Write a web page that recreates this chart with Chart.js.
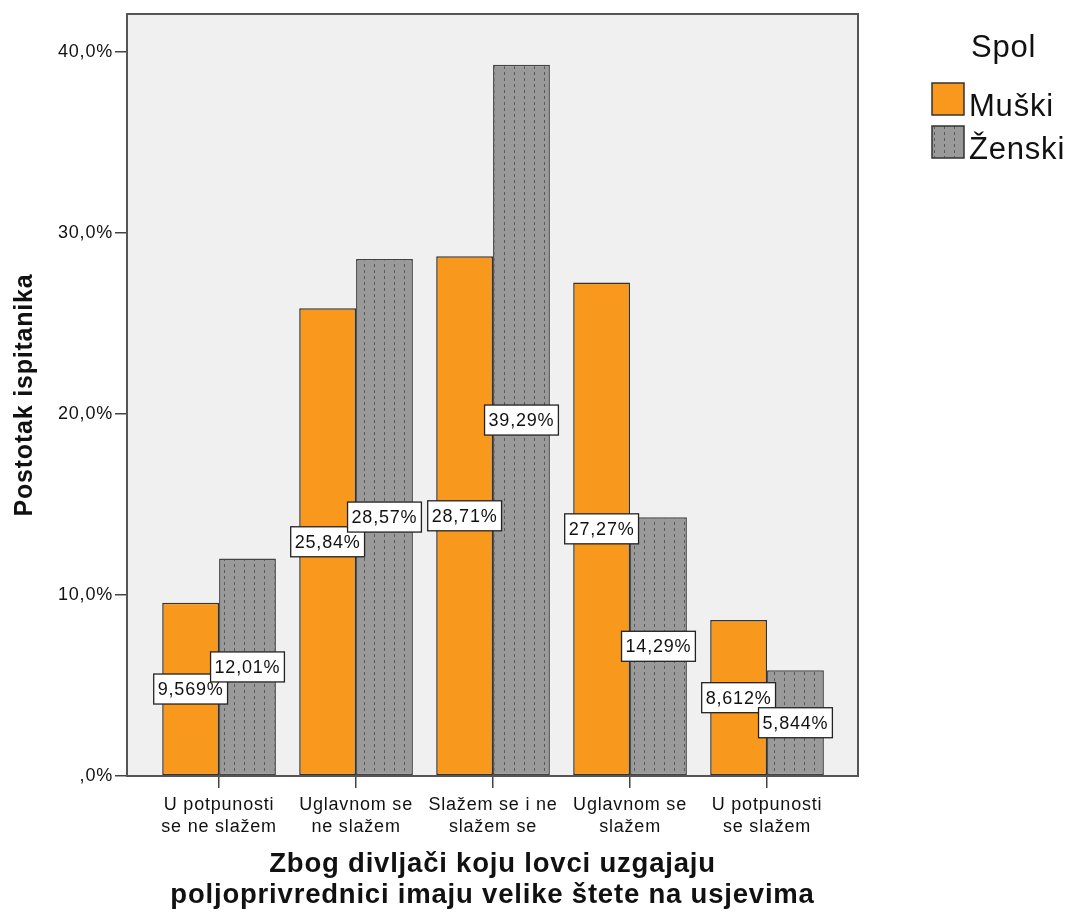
<!DOCTYPE html>
<html>
<head>
<meta charset="utf-8">
<script src="https://cdn.jsdelivr.net/npm/chart.js@4.4.1/dist/chart.umd.min.js"></script>
<style>
  html, body { margin: 0; padding: 0; background: #fff; }
  #wrap { width: 1077px; height: 913px; }
</style>
</head>
<body>
<div id="wrap"><canvas id="chart" width="1077" height="913"></canvas></div>
<script>
// data
const categories = [
  ['U potpunosti', 'se ne slažem'],
  ['Uglavnom se', 'ne slažem'],
  ['Slažem se i ne', 'slažem se'],
  ['Uglavnom se', 'slažem'],
  ['U potpunosti', 'se slažem']
];
const seriesNames = ['Muški', 'Ženski'];
const muski = [9.569, 25.84, 28.71, 27.27, 8.612];
const zenski = [12.01, 28.57, 39.29, 14.29, 5.844];
const yTickValues = [0, 10, 20, 30, 40];
const yTitle = 'Postotak ispitanika';
const xTitle = ['Zbog divljači koju lovci uzgajaju', 'poljoprivrednici imaju velike štete na usjevima'];
const legendTitle = 'Spol';

const FONT = "'Liberation Sans', Arial, sans-serif";
Chart.defaults.font.family = FONT;
Chart.defaults.color = '#111';

const canvas = document.getElementById('chart');
const mainCtx = canvas.getContext('2d');

function dottedPattern() {
  const c = document.createElement('canvas');
  c.width = 10; c.height = 6;
  const g = c.getContext('2d');
  g.fillStyle = '#9a9a9a';
  g.fillRect(0, 0, 10, 6);
  g.fillStyle = '#5a5a5a';
  g.fillRect(4, 0, 1, 3);
  return mainCtx.createPattern(c, 'repeat');
}
const grayFill = dottedPattern();
const orangeFill = '#f8991d';

function pct(v) {
  return v.toPrecision(4).replace('.', ',') + '%';
}

const toPoints = arr => arr.map((v, i) => ({ x: i, y: v }));

// text spacing like the SPSS render
const spacing = {
  id: 'spacing',
  beforeUpdate(chart) { chart.ctx.letterSpacing = '0.8px'; }
};

const plotBg = {
  id: 'plotBg',
  beforeDraw(chart) {
    const a = chart.chartArea, ctx = chart.ctx;
    ctx.save();
    ctx.fillStyle = '#f0f0f0';
    ctx.fillRect(a.left, a.top, a.right - a.left, a.bottom - a.top);
    ctx.restore();
  },
  afterDatasetsDraw(chart) {
    const a = chart.chartArea, ctx = chart.ctx;
    ctx.save();
    ctx.strokeStyle = '#555';
    ctx.lineWidth = 2;
    ctx.strokeRect(a.left, a.top, a.right - a.left, a.bottom - a.top);
    ctx.restore();
  }
};

const valueLabels = {
  id: 'valueLabels',
  afterDatasetsDraw(chart) {
    const ctx = chart.ctx;
    ctx.save();
    ctx.font = '18px ' + FONT;
    ctx.textAlign = 'center';
    ctx.textBaseline = 'middle';
    chart.data.datasets.forEach((ds, di) => {
      chart.getDatasetMeta(di).data.forEach((bar, i) => {
        const txt = pct(ds.data[i].y);
        const w = ctx.measureText(txt).width + 8, h = 30;
        const cx = bar.x, cy = (bar.y + bar.base) / 2;
        ctx.fillStyle = '#fff';
        ctx.fillRect(cx - w / 2, cy - h / 2, w, h);
        ctx.strokeStyle = '#222';
        ctx.lineWidth = 1.3;
        ctx.strokeRect(cx - w / 2, cy - h / 2, w, h);
        ctx.fillStyle = '#111';
        ctx.fillText(txt, cx, cy + 1);
      });
    });
    ctx.restore();
  }
};

const sideLegend = {
  id: 'sideLegend',
  afterDraw(chart) {
    const ctx = chart.ctx;
    ctx.save();
    ctx.font = '31px ' + FONT;
    ctx.fillStyle = '#111';
    ctx.textBaseline = 'alphabetic';
    ctx.fillText(legendTitle, 971, 57);
    chart.data.datasets.forEach((ds, i) => {
      const y = 83 + i * 43;
      ctx.fillStyle = ds.backgroundColor;
      ctx.fillRect(932, y, 32, 32);
      ctx.strokeStyle = '#333';
      ctx.lineWidth = 1.5;
      ctx.strokeRect(932, y, 32, 32);
      ctx.fillStyle = '#111';
      ctx.fillText(ds.label, 969, y + 33);
    });
    ctx.restore();
  }
};

new Chart(canvas, {
  type: 'bar',
  data: {
    datasets: [
      {
        label: seriesNames[0],
        data: toPoints(muski),
        backgroundColor: orangeFill,
        borderColor: '#333',
        borderWidth: 1.5,
        borderSkipped: false
      },
      {
        label: seriesNames[1],
        data: toPoints(zenski),
        backgroundColor: grayFill,
        borderColor: '#444',
        borderWidth: 1.5,
        borderSkipped: false
      }
    ]
  },
  options: {
    responsive: false,
    animation: false,
    devicePixelRatio: 1,
    categoryPercentage: 0.83,
    barPercentage: 1.0,
    layout: { padding: { top: 14, right: 219, left: 0, bottom: 0 } },
    plugins: {
      legend: { display: false },
      tooltip: { enabled: false }
    },
    scales: {
      x: {
        type: 'linear',
        min: -0.672,
        max: 4.664,
        offset: false,
        grid: { display: true, drawOnChartArea: false, drawTicks: true, tickLength: 12, color: '#444', lineWidth: 1.5, offset: false },
        border: { display: true, color: '#444', width: 2 },
        ticks: {
          stepSize: 1,
          includeBounds: false,
          autoSkip: false,
          maxRotation: 0,
          padding: 7,
          font: { size: 18, lineHeight: 1.17 },
          color: '#111',
          callback: v => (Number.isInteger(v) && categories[v]) ? categories[v] : ''
        },
        title: {
          display: true,
          text: xTitle,
          font: { size: 27.5, weight: 'bold', lineHeight: 31 / 27.5 },
          color: '#111',
          padding: { top: 0, bottom: 2 }
        },
        afterFit(scale) { scale.height = 137; }
      },
      y: {
        min: 0,
        max: 42.1,
        grid: { display: true, drawOnChartArea: false, drawTicks: true, tickLength: 12, color: '#444', lineWidth: 1.5 },
        border: { display: true, color: '#444', width: 2 },
        ticks: {
          stepSize: 10,
          includeBounds: false,
          padding: 2,
          font: { size: 18 },
          color: '#111',
          callback: v => yTickValues.includes(v) ? (v === 0 ? ',0%' : v.toFixed(1).replace('.', ',') + '%') : ''
        },
        title: {
          display: true,
          text: yTitle,
          font: { size: 25, weight: 'bold' },
          color: '#111',
          padding: { top: 10, bottom: 0 }
        },
        afterFit(scale) { scale.width = 127; }
      }
    }
  },
  plugins: [spacing, plotBg, valueLabels, sideLegend]
});
</script>
</body>
</html>
